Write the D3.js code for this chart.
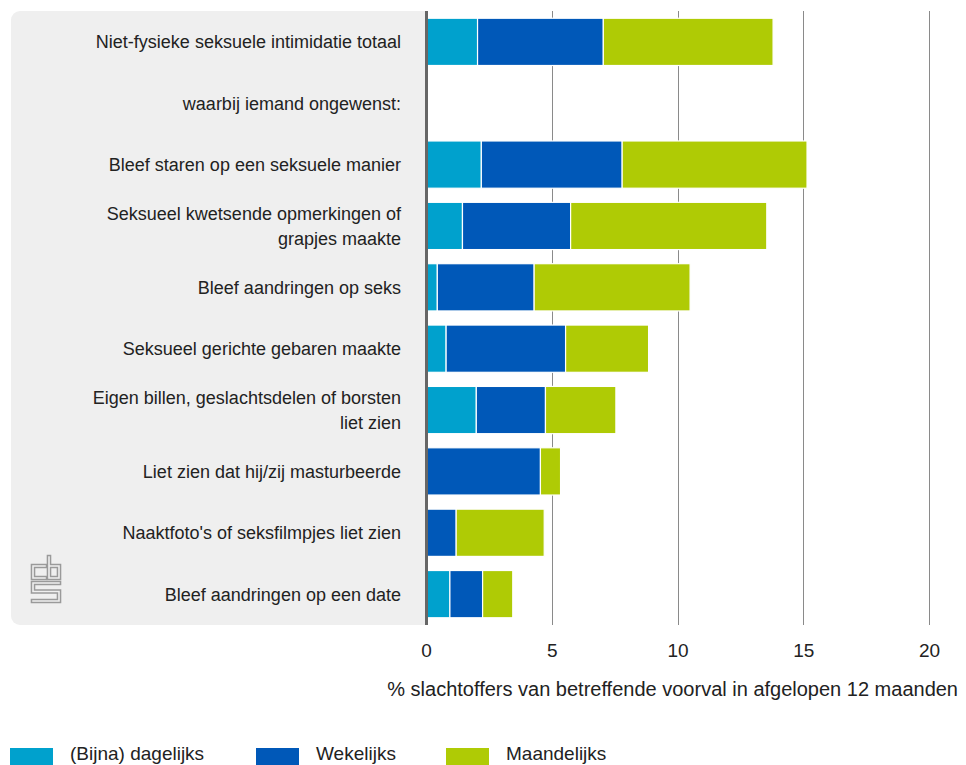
<!DOCTYPE html>
<html>
<head>
<meta charset="utf-8">
<script src="https://cdn.jsdelivr.net/npm/d3@7"></script>
<style>
  html, body { margin: 0; padding: 0; background: #ffffff; }
  svg { display: block; font-family: "Liberation Sans", Arial, sans-serif; }
</style>
</head>
<body>
<svg id="chart" width="966" height="765"></svg>
<script>
const categories = [
  "Niet-fysieke seksuele intimidatie totaal",
  "waarbij iemand ongewenst:",
  "Bleef staren op een seksuele manier",
  "Seksueel kwetsende opmerkingen of\ngrapjes maakte",
  "Bleef aandringen op seks",
  "Seksueel gerichte gebaren maakte",
  "Eigen billen, geslachtsdelen of borsten\nliet zien",
  "Liet zien dat hij/zij masturbeerde",
  "Naaktfoto's of seksfilmpjes liet zien",
  "Bleef aandringen op een date"
];
const seriesNames = ["(Bijna) dagelijks", "Wekelijks", "Maandelijks"];
const daily   = [2.05, 0, 2.2, 1.45, 0.45, 0.8, 2.0, 0, 0, 0.95];
const weekly  = [5.0, 0, 5.6, 4.3, 3.85, 4.75, 2.75, 4.55, 1.2, 1.3];
const monthly = [6.75, 0, 7.35, 7.8, 6.2, 3.3, 2.8, 0.8, 3.5, 1.2];
const tickValues = [0, 5, 10, 15, 20];
const axisTitle = "% slachtoffers van betreffende voorval in afgelopen 12 maanden";
const colors = ["#00a1cd", "#0058b8", "#afcb05"];

const svg = d3.select("#chart");

const x = d3.scaleLinear().domain([0, 20]).range([426, 929]);
const y = d3.scaleBand().domain(categories).range([11, 625])
  .paddingInner(0.23).paddingOuter(0.118);

// label panel
svg.append("rect").attr("x", 11).attr("y", 11).attr("width", 430).attr("height", 614)
  .attr("rx", 9).attr("fill", "#efefef");
svg.append("rect").attr("x", 427).attr("y", 0).attr("width", 20).attr("height", 700)
  .attr("fill", "#ffffff");

// gridlines
svg.append("g").selectAll("line").data(tickValues.filter(d => d > 0)).join("line")
  .attr("x1", d => Math.round(x(d)) + 0.5).attr("x2", d => Math.round(x(d)) + 0.5)
  .attr("y1", 11).attr("y2", 625)
  .attr("stroke", "#8a8a8a").attr("stroke-width", 1);

// stacked data
const table = categories.map((c, i) => ({ cat: c, s0: daily[i], s1: weekly[i], s2: monthly[i] }));
const stack = d3.stack().keys(["s0", "s1", "s2"])(table);

svg.append("g").selectAll("g").data(stack).join("g")
  .attr("fill", (d, i) => colors[i])
  .selectAll("rect").data(d => d.filter(p => p[1] - p[0] > 0)).join("rect")
  .attr("x", d => x(d[0]))
  .attr("width", d => x(d[1]) - x(d[0]))
  .attr("y", d => y(d.data.cat))
  .attr("height", y.bandwidth())
  .attr("stroke", "#ffffff").attr("stroke-width", 1.2);

// zero axis line
svg.append("line").attr("x1", x(0) + 0.5).attr("x2", x(0) + 0.5).attr("y1", 11).attr("y2", 625)
  .attr("stroke", "#666666").attr("stroke-width", 3);

// category labels
const labG = svg.append("g");
categories.forEach(c => {
  const lines = c.split("\n");
  const cy = y(c) + y.bandwidth() / 2;
  const lh = 25.5;
  const t = labG.append("text").attr("text-anchor", "end")
    .attr("font-size", 18).attr("fill", "#222");
  lines.forEach((ln, k) => {
    t.append("tspan").attr("x", 401)
      .attr("y", cy + 6.5 + (k - (lines.length - 1) / 2) * lh)
      .text(ln);
  });
});

// x axis ticks
const axis = d3.axisBottom(x).tickValues(tickValues).tickSize(0).tickPadding(0);
const ag = svg.append("g").attr("transform", "translate(0,643)").call(axis);
ag.select(".domain").remove();
ag.selectAll("text").attr("font-size", 19).attr("fill", "#222")
  .attr("font-family", "Liberation Sans, Arial, sans-serif")
  .attr("dy", "0.72em");

svg.append("text").attr("x", 958).attr("y", 696).attr("text-anchor", "end")
  .attr("font-size", 20).attr("fill", "#222").text(axisTitle);

// legend
const legX = [10, 256, 446];
seriesNames.forEach((n, i) => {
  svg.append("rect").attr("x", legX[i]).attr("y", 748).attr("width", 43).attr("height", 17)
    .attr("fill", colors[i]);
  svg.append("text").attr("x", legX[i] + 60).attr("y", 760)
    .attr("font-size", 19).attr("fill", "#222").text(n);
});

// CBS logo
const logo = svg.append("g").attr("transform", "translate(31,556)").attr("fill", "none")
  .attr("stroke-linejoin", "miter").attr("stroke-linecap", "square");
const logoPaths = [
  "M14,10 H2 V22 H14",
  "M18,1 V22 H28 V10 H18",
  "M28,27 H2 V35.5 H28 V45 H2"
];
logoPaths.forEach(p => {
  logo.append("path").attr("d", p).attr("stroke", "#9a9a9a").attr("stroke-width", 4.6);
});
logoPaths.forEach(p => {
  logo.append("path").attr("d", p).attr("stroke", "#efefef").attr("stroke-width", 1.6);
});
</script>
</body>
</html>
